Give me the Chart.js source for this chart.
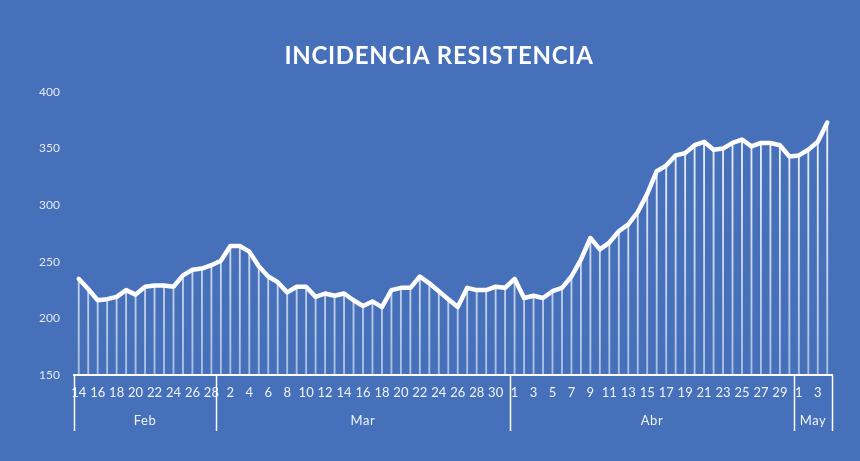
<!DOCTYPE html>
<html>
<head>
<meta charset="utf-8">
<script src="https://cdn.jsdelivr.net/npm/chart.js@4.4.1/dist/chart.umd.min.js"></script>
<style>
  html, body { margin: 0; padding: 0; background: #4670B9; }
  #wrap { width: 860px; height: 461px; position: relative; }
</style>
</head>
<body>
<div id="wrap"><canvas id="myChart"></canvas></div>
<script>
var chartTitle = 'INCIDENCIA RESISTENCIA';
var days = ['14','15','16','17','18','19','20','21','22','23','24','25','26','27','28',
    '1','2','3','4','5','6','7','8','9','10','11','12','13','14','15','16','17','18','19','20','21','22','23','24','25','26','27','28','29','30','31',
    '1','2','3','4','5','6','7','8','9','10','11','12','13','14','15','16','17','18','19','20','21','22','23','24','25','26','27','28','29','30',
    '1','2','3','4'];
var monthNames = ['Feb', 'Mar', 'Abr', 'May'];
var monthLengths = [15, 31, 30, 4];
var incidencia = [235, 226, 216, 217, 219, 225, 221, 228, 229, 229,
    228, 238, 243, 244, 247, 251, 264, 264, 259, 246,
    237, 232, 223, 228, 228, 219, 222, 220, 222, 216,
    211, 215, 210, 225, 227, 227, 237, 231, 224, 217,
    210, 227, 225, 225, 228, 227, 235, 218, 220, 218,
    224, 227, 237, 252, 271, 261, 267, 277, 283, 294,
    310, 330, 335, 344, 346, 353, 356, 349, 350, 355,
    358, 352, 355, 355, 353, 343, 344, 349, 356, 373];
var yTicks = [150, 200, 250, 300, 350, 400];

// title is a bit off-centre in the original, so draw it by hand
var titlePlugin = {
    id: 'titlePlugin',
    afterDraw: function(chart) {
        var ctx = chart.ctx;
        ctx.save();
        ctx.fillStyle = '#ffffff';
        ctx.font = 'bold 24px Lato';
        ctx.letterSpacing = '0.7px';
        ctx.textAlign = 'center';
        ctx.textBaseline = 'middle';
        ctx.fillText(chartTitle, 439, 56);
        ctx.restore();
    }
};

// month row under the day labels
var monthBands = {
    id: 'monthBands',
    afterDraw: function(chart) {
        var x = chart.scales.x;
        var ctx = chart.ctx;
        var top = chart.chartArea.bottom;
        var half = (x.getPixelForValue(1) - x.getPixelForValue(0)) / 2;
        ctx.save();
        ctx.strokeStyle = '#ffffff';
        ctx.lineWidth = 1.5;
        ctx.fillStyle = 'rgba(255,255,255,0.92)';
        ctx.font = '13px Lato';
        ctx.letterSpacing = '0.6px';
        ctx.textAlign = 'center';
        ctx.textBaseline = 'middle';
        var start = 0;
        var edges = [x.getPixelForValue(0) - half];
        for (var m = 0; m < monthNames.length; m++) {
            var end = start + monthLengths[m] - 1;
            var left = x.getPixelForValue(start) - half;
            var right = x.getPixelForValue(end) + half;
            edges.push(right);
            ctx.fillText(monthNames[m], (left + right) / 2, top + 46);
            start = end + 1;
        }
        edges.forEach(function(px) {
            ctx.beginPath();
            ctx.moveTo(Math.round(px) + 0.5, top);
            ctx.lineTo(Math.round(px) + 0.5, top + 56);
            ctx.stroke();
        });
        ctx.restore();
    }
};

var dropGradient;
function dropColor(context) {
    var area = context.chart.chartArea;
    if (!area) return 'rgba(255,255,255,0.8)';
    if (!dropGradient) {
        dropGradient = context.chart.ctx.createLinearGradient(0, area.top, 0, area.bottom);
        dropGradient.addColorStop(0, 'rgba(255,255,255,0.95)');
        dropGradient.addColorStop(1, 'rgba(255,255,255,0.55)');
    }
    return dropGradient;
}

var ctx = document.getElementById('myChart').getContext('2d');
var myChart = new Chart(ctx, {
    type: 'bar',
    data: {
        labels: days,
        datasets: [
            {
                type: 'line',
                label: 'Incidencia',
                data: incidencia,
                borderColor: '#ffffff',
                borderWidth: 4.5,
                pointRadius: 0,
                tension: 0,
                borderJoinStyle: 'round',
                borderCapStyle: 'round',
                order: 0
            },
            {
                type: 'bar',
                label: 'drop',
                data: incidencia,
                backgroundColor: dropColor,
                barThickness: 1.2,
                order: 1
            }
        ]
    },
    plugins: [monthBands, titlePlugin],
    options: {
        responsive: true,
        maintainAspectRatio: false,
        animation: false,
        layout: { padding: { left: 0, right: 28, top: 92, bottom: 0 } },
        plugins: {
            legend: { display: false },
            tooltip: { enabled: false },
            title: { display: false }
        },
        scales: {
            x: {
                type: 'category',
                offset: true,
                grid: { display: false, drawTicks: false },
                border: { display: true, color: '#ffffff', width: 2 },
                ticks: {
                    autoSkip: false,
                    maxRotation: 0,
                    minRotation: 0,
                    padding: 10,
                    color: 'rgba(255,255,255,0.92)',
                    font: { family: 'Lato', size: 13 },
                    callback: function(val, i) {
                        return i % 2 === 0 ? days[i] : '';
                    }
                },
                afterFit: function(scale) { scale.height = 86; }
            },
            y: {
                min: 150,
                max: 400,
                grid: { display: false, drawTicks: false },
                border: { display: false },
                ticks: {
                    padding: 14,
                    color: 'rgba(255,255,255,0.85)',
                    font: { family: 'Lato', size: 12 }
                },
                afterBuildTicks: function(axis) {
                    axis.ticks = yTicks.map(function(v) { return { value: v }; });
                },
                afterFit: function(scale) { scale.width = 74; }
            }
        }
    }
});
</script>
</body>
</html>
